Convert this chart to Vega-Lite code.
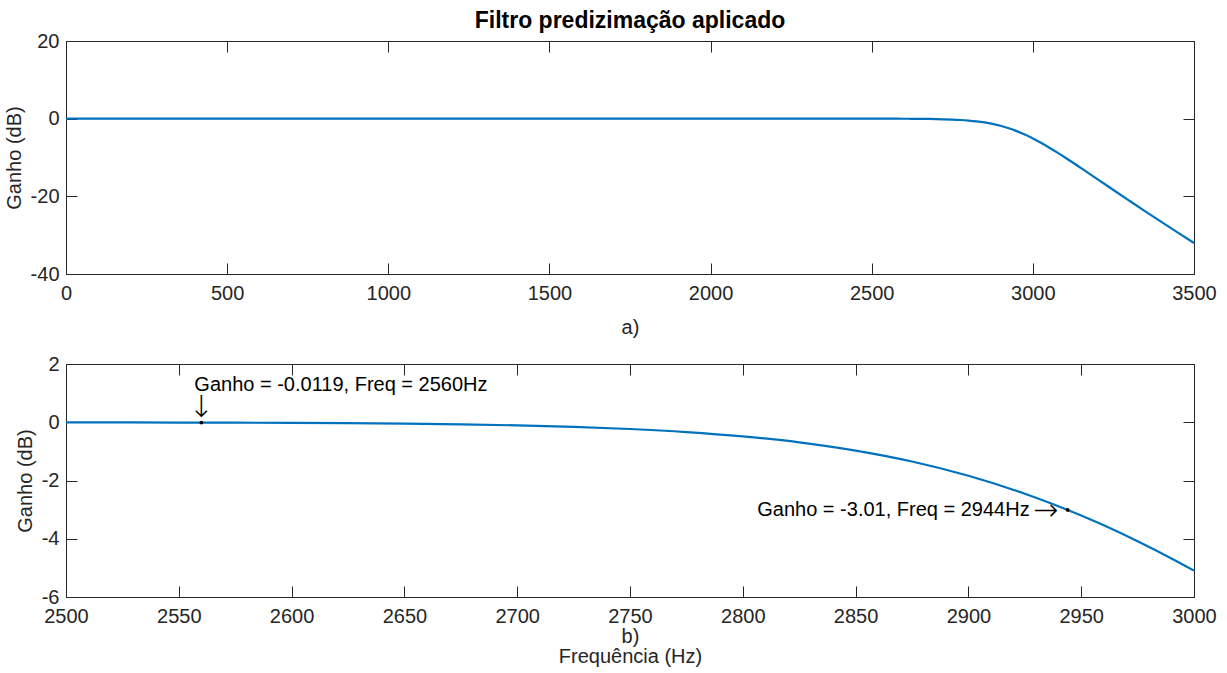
{
  "$schema": "https://vega.github.io/schema/vega-lite/v6.json",
  "background": "white",
  "padding": {"left": 3, "top": 9, "right": 20, "bottom": 2},
  "bounds": "flush",
  "spacing": 90,
  "config": {
    "font": "Liberation Sans",
    "view": {"stroke": "#262626", "strokeWidth": 1},
    "axis": {
      "grid": false,
      "domainColor": "#262626",
      "tickColor": "#262626",
      "labelColor": "#262626",
      "titleColor": "#262626",
      "labelFont": "Liberation Sans",
      "titleFont": "Liberation Sans",
      "labelFontSize": 20,
      "titleFontSize": 20,
      "titleFontWeight": "normal",
      "tickSize": -11,
      "labelPadding": 18,
      "labelFlush": false,
      "labelOverlap": false,
      "labelExpr": "datum.value + ''"
    },
    "axisX": {"labelPadding": 20}
  },
  "datasets": {
    "curve": [
      {"f": 0, "g": 0},
      {"f": 500, "g": 0},
      {"f": 1000, "g": 0},
      {"f": 1500, "g": 0},
      {"f": 2000, "g": 0},
      {"f": 2400, "g": -0.0007},
      {"f": 2500, "g": -0.004},
      {"f": 2525, "g": -0.0063},
      {"f": 2550, "g": -0.0095},
      {"f": 2560, "g": -0.0119},
      {"f": 2575, "g": -0.0144},
      {"f": 2600, "g": -0.0218},
      {"f": 2625, "g": -0.0327},
      {"f": 2650, "g": -0.0489},
      {"f": 2675, "g": -0.0727},
      {"f": 2700, "g": -0.1075},
      {"f": 2725, "g": -0.158},
      {"f": 2750, "g": -0.232},
      {"f": 2775, "g": -0.337},
      {"f": 2800, "g": -0.485},
      {"f": 2825, "g": -0.69},
      {"f": 2850, "g": -0.973},
      {"f": 2875, "g": -1.348},
      {"f": 2900, "g": -1.837},
      {"f": 2925, "g": -2.453},
      {"f": 2935, "g": -2.736},
      {"f": 2944, "g": -3.01},
      {"f": 2950, "g": -3.202},
      {"f": 2960, "g": -3.54},
      {"f": 2975, "g": -4.087},
      {"f": 2990, "g": -4.677},
      {"f": 3000, "g": -5.094},
      {"f": 3025, "g": -6.209},
      {"f": 3050, "g": -7.416},
      {"f": 3075, "g": -8.686},
      {"f": 3100, "g": -10.01},
      {"f": 3150, "g": -12.75},
      {"f": 3200, "g": -15.55},
      {"f": 3250, "g": -18.36},
      {"f": 3300, "g": -21.15},
      {"f": 3350, "g": -23.92},
      {"f": 3400, "g": -26.65},
      {"f": 3450, "g": -29.35},
      {"f": 3500, "g": -32.01}
    ],
    "markA": [{"f": 2560, "g": -0.0119, "label": "Ganho = -0.0119, Freq = 2560Hz", "arrow": "↓"}],
    "markB": [{"f": 2944, "g": -3.01, "label": "Ganho = -3.01, Freq = 2944Hz", "arrow": "→"}]
  },
  "vconcat": [
    {
      "width": 1128,
      "height": 233,
      "title": {"text": "Filtro predizimação aplicado", "fontSize": 23, "fontWeight": "bold", "color": "#000000", "font": "Liberation Sans", "offset": -2, "anchor": "middle"},
      "data": {"name": "curve"},
      "layer": [
        {
          "mark": {"type": "line", "color": "#0072BD", "strokeWidth": 2.2, "interpolate": "monotone"},
          "encoding": {
            "x": {"field": "f", "type": "quantitative", "scale": {"domain": [0, 3500], "nice": false, "zero": false},
                  "axis": {"orient": "bottom", "values": [0, 500, 1000, 1500, 2000, 2500, 3000, 3500], "title": "a)", "titlePadding": 14}},
            "y": {"field": "g", "type": "quantitative", "scale": {"domain": [-40, 20], "nice": false, "zero": false},
                  "axis": {"orient": "left", "values": [-40, -20, 0, 20], "title": "Ganho (dB)", "titlePadding": 6}}
          }
        },
        {
          "mark": {"type": "line", "strokeOpacity": 0},
          "encoding": {
            "x": {"field": "f", "type": "quantitative", "axis": {"orient": "top", "values": [0, 500, 1000, 1500, 2000, 2500, 3000, 3500], "labels": false, "domain": false, "title": null}},
            "y": {"field": "g", "type": "quantitative", "axis": {"orient": "right", "values": [-40, -20, 0, 20], "labels": false, "domain": false, "title": null}}
          }
        }
      ]
    },
    {
      "width": 1128,
      "height": 233,
      "layer": [
        {
          "data": {"name": "curve"},
          "transform": [{"filter": {"field": "f", "range": [2500, 3000]}}],
          "mark": {"type": "line", "color": "#0072BD", "strokeWidth": 2.2, "interpolate": "monotone"},
          "encoding": {
            "x": {"field": "f", "type": "quantitative", "scale": {"domain": [2500, 3000], "nice": false, "zero": false},
                  "axis": {"orient": "bottom", "values": [2500, 2550, 2600, 2650, 2700, 2750, 2800, 2850, 2900, 2950, 3000], "title": ["b)", "Frequência (Hz)"], "titlePadding": 0, "titleLineHeight": 20}},
            "y": {"field": "g", "type": "quantitative", "scale": {"domain": [-6, 2], "nice": false, "zero": false},
                  "axis": {"orient": "left", "values": [-6, -4, -2, 0, 2], "title": "Ganho (dB)", "titlePadding": 6}}
          }
        },
        {
          "data": {"name": "curve"},
          "transform": [{"filter": {"field": "f", "range": [2500, 3000]}}],
          "mark": {"type": "line", "strokeOpacity": 0},
          "encoding": {
            "x": {"field": "f", "type": "quantitative", "axis": {"orient": "top", "values": [2500, 2550, 2600, 2650, 2700, 2750, 2800, 2850, 2900, 2950, 3000], "labels": false, "domain": false, "title": null}},
            "y": {"field": "g", "type": "quantitative", "axis": {"orient": "right", "values": [-6, -4, -2, 0, 2], "labels": false, "domain": false, "title": null}}
          }
        },
        {
          "data": {"name": "markA"},
          "mark": {"type": "circle", "color": "#000000", "size": 14, "opacity": 1},
          "encoding": {"x": {"field": "f", "type": "quantitative", "axis": null}, "y": {"field": "g", "type": "quantitative", "axis": null}}
        },
        {
          "data": {"name": "markB"},
          "mark": {"type": "circle", "color": "#000000", "size": 14, "opacity": 1},
          "encoding": {"x": {"field": "f", "type": "quantitative", "axis": null}, "y": {"field": "g", "type": "quantitative", "axis": null}}
        },
        {
          "data": {"name": "markA"},
          "mark": {"type": "text", "align": "left", "baseline": "middle", "dx": -7, "dy": -38, "fontSize": 20, "color": "#000000", "font": "Liberation Sans"},
          "encoding": {"x": {"field": "f", "type": "quantitative", "axis": null}, "y": {"field": "g", "type": "quantitative", "axis": null}, "text": {"field": "label"}}
        },
        {
          "data": {"name": "markA"},
          "mark": {"type": "text", "align": "center", "baseline": "middle", "dx": 0, "dy": -15, "fontSize": 30, "color": "#000000", "font": "DejaVu Sans", "fontWeight": 200},
          "encoding": {"x": {"field": "f", "type": "quantitative", "axis": null}, "y": {"field": "g", "type": "quantitative", "axis": null}, "text": {"field": "arrow"}}
        },
        {
          "data": {"name": "markB"},
          "mark": {"type": "text", "align": "right", "baseline": "middle", "dx": -38, "dy": 0, "fontSize": 20, "color": "#000000", "font": "Liberation Sans"},
          "encoding": {"x": {"field": "f", "type": "quantitative", "axis": null}, "y": {"field": "g", "type": "quantitative", "axis": null}, "text": {"field": "label"}}
        },
        {
          "data": {"name": "markB"},
          "mark": {"type": "text", "align": "center", "baseline": "middle", "dx": -22, "dy": 1, "fontSize": 30, "color": "#000000", "font": "DejaVu Sans", "fontWeight": 200},
          "encoding": {"x": {"field": "f", "type": "quantitative", "axis": null}, "y": {"field": "g", "type": "quantitative", "axis": null}, "text": {"field": "arrow"}}
        }
      ]
    }
  ]
}
